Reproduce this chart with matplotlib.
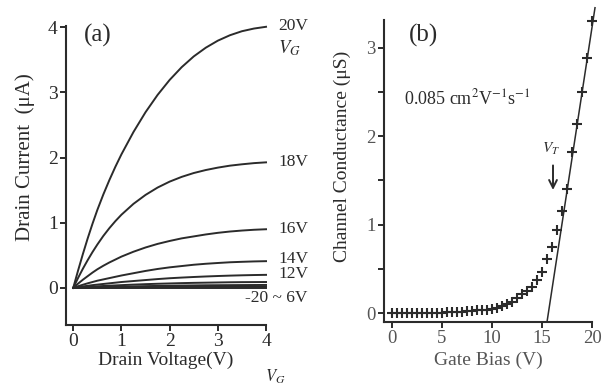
import matplotlib
matplotlib.use("Agg")
import matplotlib.pyplot as plt

plt.rcParams["font.family"] = ["Liberation Serif", "DejaVu Serif"]
plt.rcParams["mathtext.fontset"] = "stix"

INK = "#2b2b2b"
GREY = "#555555"

# (a) output curves: drain voltage vs drain current for each gate voltage
drain_v = [0, 0.1, 0.2, 0.3, 0.4, 0.5, 0.625, 0.75, 0.875, 1.0, 1.25, 1.5,
           1.75, 2.0, 2.25, 2.5, 2.75, 3.0, 3.25, 3.5, 3.75, 4.0]
id_20v = [0, 0.265, 0.519, 0.76, 0.985, 1.196, 1.435, 1.655, 1.86, 2.05, 2.393,
          2.697, 2.962, 3.192, 3.388, 3.553, 3.687, 3.795, 3.878, 3.94, 3.981, 4.008]
id_18v = [0, 0.152, 0.294, 0.426, 0.55, 0.665, 0.798, 0.917, 1.025, 1.123, 1.29,
          1.427, 1.54, 1.631, 1.704, 1.763, 1.809, 1.846, 1.876, 1.897, 1.915, 1.927]
id_16v = [0, 0.065, 0.125, 0.18, 0.235, 0.285, 0.34, 0.39, 0.435, 0.48, 0.555,
          0.62, 0.675, 0.72, 0.76, 0.79, 0.82, 0.845, 0.865, 0.88, 0.892, 0.90]
id_14v = [0, 0.025, 0.048, 0.07, 0.09, 0.11, 0.13, 0.15, 0.17, 0.19, 0.225,
          0.26, 0.29, 0.315, 0.335, 0.355, 0.37, 0.382, 0.393, 0.40, 0.406, 0.41]
id_12v = [0, 0.012, 0.022, 0.032, 0.042, 0.05, 0.06, 0.07, 0.08, 0.09, 0.105,
          0.12, 0.135, 0.148, 0.158, 0.167, 0.175, 0.182, 0.188, 0.193, 0.197, 0.20]
id_10v = [0, 0.005, 0.01, 0.015, 0.02, 0.024, 0.029, 0.034, 0.038, 0.042, 0.05,
          0.057, 0.063, 0.068, 0.073, 0.077, 0.08, 0.083, 0.086, 0.088, 0.089, 0.09]
id_8v = [0, 0.002, 0.005, 0.007, 0.009, 0.011, 0.013, 0.015, 0.017, 0.019, 0.023,
         0.027, 0.030, 0.033, 0.036, 0.038, 0.040, 0.041, 0.042, 0.043, 0.044, 0.045]
id_6v = [0, 0.001, 0.002, 0.003, 0.004, 0.005, 0.006, 0.007, 0.008, 0.009, 0.010,
         0.012, 0.013, 0.014, 0.015, 0.016, 0.017, 0.018, 0.019, 0.019, 0.020, 0.020]
id_off = [0] * len(drain_v)
curves_a = [id_20v, id_18v, id_16v, id_14v, id_12v, id_10v, id_8v, id_6v, id_off]

# (b) transfer: gate bias vs channel conductance
gate_v = [0, 0.5, 1, 1.5, 2, 2.5, 3, 3.5, 4, 4.5, 5, 5.5, 6, 6.5, 7, 7.5, 8,
          8.5, 9, 9.5, 10, 10.5, 11, 11.5, 12, 12.5, 13, 13.5, 14, 14.5, 15,
          15.5, 16, 16.5, 17, 17.5, 18, 18.5, 19, 19.5, 20]
cond_us = [0.00, 0.00, 0.00, 0.00, 0.00, 0.00, 0.00, 0.00, 0.00, 0.00, 0.00,
           0.01, 0.01, 0.01, 0.01, 0.02, 0.02, 0.03, 0.03, 0.04, 0.05, 0.06,
           0.08, 0.10, 0.13, 0.17, 0.22, 0.25, 0.29, 0.37, 0.47, 0.61, 0.75,
           0.94, 1.15, 1.40, 1.82, 2.14, 2.50, 2.88, 3.30]
fit_x = [15.5, 20.3]
fit_y = [-0.10, 3.45]


def style_axes(ax):
    ax.spines["top"].set_visible(False)
    ax.spines["right"].set_visible(False)
    for s in ("left", "bottom"):
        ax.spines[s].set_linewidth(1.5)
        ax.spines[s].set_color(INK)


fig = plt.figure(figsize=(6.10, 3.87), dpi=100)

# ---- panel (a)
ax = fig.add_axes([0.1082, 0.1602, 0.3279, 0.7726])
for ys in curves_a:
    ax.plot(drain_v, ys, color=INK, linewidth=1.4, clip_on=False)
ax.set_xlim(-0.15, 4.0)
ax.set_ylim(-0.57, 4.02)
ax.set_xticks([0, 1, 2, 3, 4])
ax.set_yticks([0, 1, 2, 3, 4])
style_axes(ax)
ax.tick_params(direction="out", length=4, width=1.4, labelsize=14,
               colors=INK, pad=2)
ax.set_xlabel("Drain Voltage(V)", fontsize=14, color=INK, labelpad=1)
ax.set_ylabel("Drain Current  (\u03bcA)", fontsize=15, color=INK)
ax.yaxis.set_label_coords(-0.155, 0.56)
ax.text(0.09, 0.97, "(a)", transform=ax.transAxes, fontsize=18, color=INK,
        ha="left", va="center")

labels_a = [("20V", 4.02), ("18V", 1.93), ("16V", 0.90), ("14V", 0.45), ("12V", 0.21)]
for txt, yv in labels_a:
    ax.text(4.25, yv, txt, fontsize=12.5, color=INK, ha="left", va="center")
ax.text(4.25, 3.68, "$V_G$", fontsize=13.5, color=INK, ha="left", va="center")
ax.text(4.85, -0.15, "-20 ~ 6V", fontsize=12.5, color=INK, ha="right", va="center")
fig.text(265 / 610, 1 - 377 / 387, "$V_G$", fontsize=12, color=INK,
         ha="left", va="center")

# ---- panel (b)
bx = fig.add_axes([0.6295, 0.168, 0.341, 0.780])
bx.plot(gate_v, cond_us, linestyle="none", marker="+", markersize=7,
        markeredgewidth=1.5, color=INK, clip_on=False)
bx.plot(fit_x, fit_y, color=INK, linewidth=1.1, clip_on=False)
bx.set_xlim(-0.8, 20)
bx.set_ylim(-0.1, 3.31)
bx.set_xticks([0, 5, 10, 15, 20])
bx.set_yticks([0, 0.5, 1, 1.5, 2, 2.5, 3])
bx.set_yticklabels(["0", "", "1", "", "2", "", "3"])
style_axes(bx)
bx.tick_params(direction="out", length=4, width=1.4, labelsize=13.5,
               colors=INK, labelcolor=GREY, pad=2)
bx.set_xlabel("Gate Bias (V)", fontsize=14, color=GREY, labelpad=3)
bx.set_ylabel("Channel Conductance (\u03bcS)", fontsize=14, color=INK)
bx.yaxis.set_label_coords(-0.16, 0.55)
bx.text(0.12, 0.95, "(b)", transform=bx.transAxes, fontsize=18, color=INK,
        ha="left", va="center")
bx.text(1.2, 2.43, "0.085 cm$^{2}$V$^{-1}$s$^{-1}$", fontsize=13, color=INK,
        ha="left", va="center")
bx.text(15.9, 1.85, "$V_T$", fontsize=11, color=INK, ha="center", va="center")
bx.annotate("", xy=(16.1, 1.36), xytext=(16.1, 1.70),
            arrowprops=dict(arrowstyle="->", color=INK, lw=1.4,
                            mutation_scale=14))

fig.savefig("out.png", dpi=100)
